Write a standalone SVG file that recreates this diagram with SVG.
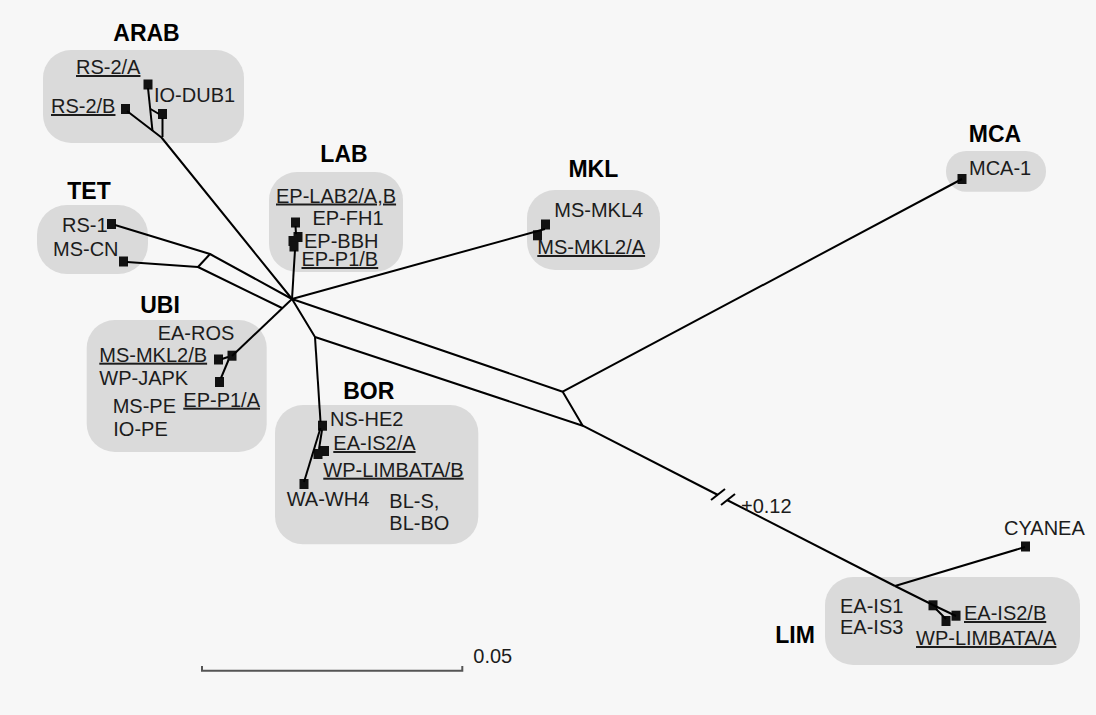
<svg xmlns="http://www.w3.org/2000/svg" width="1096" height="715" viewBox="0 0 1096 715">
<style>
.bg{fill:#f7f7f7}
.box{fill:#dadada}
.t{font-family:"Liberation Sans",Arial,sans-serif;font-size:20px;fill:#1c1c1c}
.u{text-decoration:underline}
.h{font-family:"Liberation Sans",Arial,sans-serif;font-size:23px;font-weight:bold;fill:#000;text-anchor:middle}
.e{fill:none;stroke:#000;stroke-width:2;stroke-linejoin:round}
.sq{fill:#111}
.sc{fill:none;stroke:#555;stroke-width:2}
</style>
<defs>
<rect id="s" x="-4.5" y="-5" width="9" height="10" class="sq"/>
</defs>
<rect class="bg" x="0" y="0" width="1096" height="715"/>

<g id="ARAB">
<rect class="box" x="43" y="50" width="201" height="93" rx="28"/>
<text class="h" x="146.5" y="41">ARAB</text>
<text class="t u" x="76" y="74">RS-2/A</text>
<text class="t u" x="51" y="113">RS-2/B</text>
<text class="t" x="154" y="102">IO-DUB1</text>
<use href="#s" x="148" y="84.5"/>
<use href="#s" x="125.5" y="109"/>
<use href="#s" x="162.5" y="114"/>
</g>

<g id="TET">
<rect class="box" x="37" y="205" width="111" height="69" rx="30"/>
<text class="h" x="89" y="199">TET</text>
<text class="t" x="62" y="232">RS-1</text>
<text class="t" x="53" y="256">MS-CN</text>
<use href="#s" x="111.5" y="224"/>
<use href="#s" x="123.5" y="261.5"/>
</g>

<g id="LAB">
<rect class="box" x="269" y="172" width="134" height="100" rx="28"/>
<text class="h" x="344" y="161.5">LAB</text>
<text class="t u" x="276" y="202.5">EP-LAB2/A,B</text>
<text class="t" x="312.5" y="225">EP-FH1</text>
<text class="t" x="304" y="248.3">EP-BBH</text>
<text class="t u" x="301.5" y="266">EP-P1/B</text>
<use href="#s" x="295.5" y="222.5"/>
<use href="#s" x="298" y="237"/>
<use href="#s" x="293" y="241"/>
<use href="#s" x="294" y="246.5"/>
</g>

<g id="MKL">
<rect class="box" x="527" y="190" width="133" height="80" rx="28"/>
<text class="h" x="593.3" y="177.3">MKL</text>
<text class="t" x="554.3" y="216.7">MS-MKL4</text>
<text class="t u" x="537.3" y="254">MS-MKL2/A</text>
<use href="#s" x="545.5" y="224.5"/>
<use href="#s" x="537.5" y="235.3"/>
</g>

<g id="MCA">
<rect class="box" x="946" y="151" width="100" height="40.7" rx="20"/>
<text class="h" x="995" y="141.7">MCA</text>
<text class="t" x="969" y="175">MCA-1</text>
<use href="#s" x="962" y="179"/>
</g>

<g id="UBI">
<rect class="box" x="86.7" y="320" width="180" height="132" rx="28"/>
<text class="h" x="160" y="313.3">UBI</text>
<text class="t" x="157.7" y="340">EA-ROS</text>
<text class="t u" x="99.3" y="361.7">MS-MKL2/B</text>
<text class="t" x="99.3" y="385">WP-JAPK</text>
<text class="t u" x="183.3" y="406.7">EP-P1/A</text>
<text class="t" x="112.7" y="413.3">MS-PE</text>
<text class="t" x="113.3" y="436">IO-PE</text>
<use href="#s" x="218.5" y="359.5"/>
<use href="#s" x="232" y="355.7"/>
<use href="#s" x="219.5" y="382"/>
</g>

<g id="BOR">
<rect class="box" x="275" y="405" width="203.3" height="139.3" rx="28"/>
<text class="h" x="368.8" y="399">BOR</text>
<text class="t" x="330" y="426">NS-HE2</text>
<text class="t u" x="333.3" y="450">EA-IS2/A</text>
<text class="t u" x="323.3" y="476.7">WP-LIMBATA/B</text>
<text class="t" x="286.7" y="505.7">WA-WH4</text>
<text class="t" x="389.3" y="508.3">BL-S,</text>
<text class="t" x="389.3" y="530">BL-BO</text>
<use href="#s" x="322.5" y="425.7"/>
<use href="#s" x="324.5" y="451"/>
<use href="#s" x="318" y="454"/>
<use href="#s" x="304" y="484"/>
</g>

<g id="CYANEA">
<text class="t" x="1004" y="535">CYANEA</text>
<use href="#s" x="1025.5" y="546.5"/>
</g>

<g id="LIM">
<rect class="box" x="825" y="577" width="255" height="88" rx="28"/>
<text class="h" x="795" y="643">LIM</text>
<text class="t" x="840" y="612.7">EA-IS1</text>
<text class="t" x="840" y="634">EA-IS3</text>
<text class="t u" x="964" y="620">EA-IS2/B</text>
<text class="t u" x="916" y="645">WP-LIMBATA/A</text>
<use href="#s" x="933" y="605.3"/>
<use href="#s" x="956" y="615.7"/>
<use href="#s" x="946" y="621"/>
</g>

<g id="connectors">
<!-- ARAB -->
<polyline class="e" points="127,111 161.5,137.5 292,299"/>
<line class="e" x1="148" y1="88" x2="152.5" y2="131"/>
<line class="e" x1="162.5" y1="118" x2="162.5" y2="137"/>
<line class="e" x1="150.5" y1="109" x2="159" y2="114"/>
<!-- TET -->
<polyline class="e" points="115,225 210,254 292,299"/>
<polyline class="e" points="127,262 198,267 282,308"/>
<line class="e" x1="210" y1="254" x2="198" y2="267"/>
<!-- UBI -->
<line class="e" x1="292" y1="299" x2="232" y2="356"/>
<line class="e" x1="222" y1="359" x2="228" y2="357"/>
<line class="e" x1="221" y1="378" x2="228.5" y2="360"/>
<!-- LAB -->
<line class="e" x1="295.5" y1="226" x2="296" y2="234"/>
<line class="e" x1="295" y1="250" x2="292" y2="299"/>
<!-- MKL -->
<line class="e" x1="292" y1="299" x2="545" y2="229"/>
<!-- big split -->
<polygon class="e" points="292,299 562.7,391.7 582.7,425.7 315,337"/>
<!-- MCA -->
<line class="e" x1="562.7" y1="391.7" x2="962" y2="179"/>
<!-- BOR -->
<line class="e" x1="315" y1="337" x2="320.5" y2="422"/>
<line class="e" x1="320.5" y1="428" x2="304" y2="482"/>
<line class="e" x1="322" y1="430" x2="319" y2="449"/>
<!-- LIM -->
<line class="e" x1="582.7" y1="425.7" x2="718" y2="495"/>
<line class="e" x1="727" y1="500" x2="895" y2="586"/>
<line class="e" x1="711" y1="500" x2="725" y2="489"/>
<line class="e" x1="721" y1="505" x2="735" y2="494"/>
<line class="e" x1="895" y1="586" x2="1025" y2="547"/>
<line class="e" x1="895" y1="586" x2="933" y2="605"/>
<line class="e" x1="933" y1="605" x2="956" y2="616"/>
<line class="e" x1="936" y1="609" x2="946" y2="619"/>
</g>

<g id="labels">
<text class="t" x="741" y="513">+0.12</text>
</g>

<g id="scale">
<polyline class="sc" points="202,666 202,670.7 462.3,670.7 462.3,666"/>
<text class="t" x="473.3" y="663.3">0.05</text>
</g>
</svg>
